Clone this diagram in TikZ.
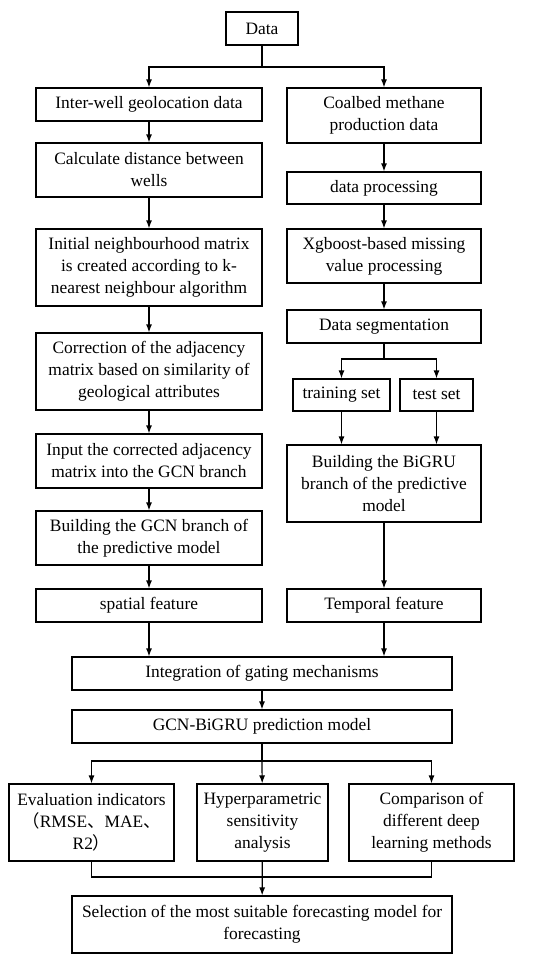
\documentclass[tikz,border=0pt]{standalone}
\usepackage{fontspec}
\setmainfont{Liberation Serif}
\newfontfamily\cjk{Noto Sans CJK SC}
\usetikzlibrary{arrows.meta}
\tikzset{
  box/.style={draw,line width=1.2pt,align=center,inner sep=2pt,minimum width=#1},
  box/.default=226pt,
  arr/.style={line width=1.2pt,-{Latex[length=8pt,width=6pt]}},
  ln/.style={line width=1.2pt}
}
\begin{document}
\begin{tikzpicture}[x=1pt,y=-1pt,font=\fontsize{17.4}{22}\selectfont]
	\useasboundingbox (0,0) rectangle (550,963);
	% top
	\node[box=72pt,minimum height=33pt] (data) at (262,28.5) {Data};
	% left branch
	\node[box,minimum height=33pt] (inter) at (149,104.5) {Inter-well geolocation data};
	\node[box,minimum height=54pt] (dist) at (149,170) {Calculate distance between\\wells};
	\node[box,minimum height=77pt] (knn) at (149,267.5) {Initial neighbourhood matrix\\is created according to k-\\nearest neighbour algorithm};
	\node[box,minimum height=77pt] (corr) at (149,371.5) {Correction of the adjacency\\matrix based on similarity of\\geological attributes};
	\node[box,minimum height=54pt] (input) at (149,461) {Input the corrected adjacency\\matrix into the GCN branch};
	\node[box,minimum height=54pt] (gcn) at (149,538) {Building the GCN branch of\\the predictive model};
	\node[box,minimum height=33pt] (spatial) at (149,605.5) {spatial feature};
	% right branch
	\node[box=194pt,minimum height=55pt] (coal) at (384,115.5) {Coalbed methane\\production data};
	\node[box=194pt,minimum height=32pt] (proc) at (384,188) {data processing};
	\node[box=194pt,minimum height=54pt] (xgb) at (384,256) {Xgboost-based missing\\value processing};
	\node[box=194pt,minimum height=33pt] (seg) at (384,326.5) {Data segmentation};
	\node[box=97pt,minimum height=32pt] (train) at (341.5,395) {training set};
	\node[box=73pt,minimum height=32pt] (test) at (436.5,395) {test set};
	\node[box=194pt,minimum height=77pt] (bigru) at (384,483.5) {Building the BiGRU\\branch of the predictive\\model};
	\node[box=194pt,minimum height=33pt] (temp) at (384,605.5) {Temporal feature};
	% bottom
	\node[box=380pt,minimum height=33pt] (gate) at (262,673.5) {Integration of gating mechanisms};
	\node[box=380pt,minimum height=33pt] (model) at (262,726.5) {GCN-BiGRU prediction model};
	\node[box=165pt,minimum height=77pt] (eval) at (91.5,822.5) {Evaluation indicators\\{\cjk （}RMSE{\cjk 、}MAE{\cjk 、}\\R2{\cjk ）}};
	\node[box=131pt,minimum height=77pt] (hyper) at (262.5,822.5) {Hyperparametric\\sensitivity\\analysis};
	\node[box=165pt,minimum height=77pt] (comp) at (431.5,822.5) {Comparison of\\different deep\\learning methods};
	\node[box=380pt,minimum height=57pt] (best) at (262,924.5) {Selection of the most suitable forecasting model for\\forecasting};
	% split points
	\coordinate (s1) at (262,67);
	\coordinate (s2) at (384,359);
	\coordinate (s3) at (262,761);
	\coordinate (s4) at (262,877);
	% connectors
	\draw[ln] (data) -- (s1);
	\draw[arr] (s1) -| (inter);
	\draw[arr] (s1) -| (coal);
	\draw[arr] (inter) -- (dist);
	\draw[arr] (dist) -- (knn);
	\draw[arr] (knn) -- (corr);
	\draw[arr] (corr) -- (input);
	\draw[arr] (input) -- (gcn);
	\draw[arr] (gcn) -- (spatial);
	\draw[arr] (spatial) -- (spatial |- gate.north);
	\draw[arr] (coal) -- (proc);
	\draw[arr] (proc) -- (xgb);
	\draw[arr] (xgb) -- (seg);
	\draw[ln] (seg) -- (s2);
	\draw[arr] (s2) -| (train);
	\draw[arr] (s2) -| (test);
	\draw[arr] (train) -- (train |- bigru.north);
	\draw[arr] (test) -- (test |- bigru.north);
	\draw[arr] (bigru) -- (temp);
	\draw[arr] (temp) -- (temp |- gate.north);
	\draw[arr] (gate) -- (model);
	\draw[ln] (model) -- (s3);
	\draw[arr] (s3) -| (eval);
	\draw[arr] (s3) -- (hyper);
	\draw[arr] (s3) -| (comp);
	\draw[ln] (eval) |- (s4) -| (comp);
	\draw[arr] (hyper) -- (best);
\end{tikzpicture}
\end{document}
